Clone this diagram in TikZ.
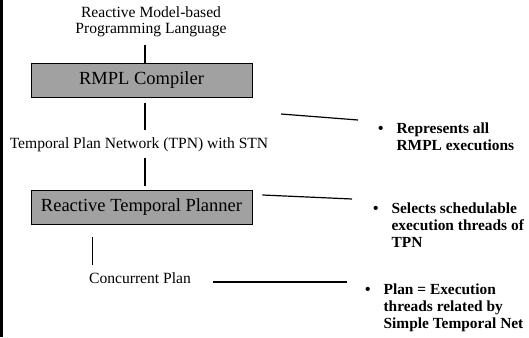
\documentclass[tikz,border=0pt]{standalone}
\usepackage{fontspec}
\setmainfont{Liberation Serif}
\usetikzlibrary{positioning}

\begin{document}
\begin{tikzpicture}[x=1pt,y=-1pt,
    stage/.style={draw,thick,fill=black!37,minimum width=221pt,minimum height=34pt,
      font=\fontsize{18.5}{20}\selectfont},
    note/.style={font=\fontsize{15.6}{16.5}\selectfont,align=center},
    point/.style={anchor=base west,inner sep=0pt,
      font=\bfseries\fontsize{15.4}{17}\selectfont},
    lead/.style={line width=1.2pt}]
  \useasboundingbox (0,0) rectangle (529,337);
  \fill (0,0) rectangle (3,337);

  \node (rm) [note] at (151,22) {Reactive Model-based\\Programming Language};
  \node (rc) [stage] at (141.5,80) {RMPL Compiler};
  \node (tpn) [note,anchor=base] at (139,148) {Temporal Plan Network (TPN) with STN};
  \node (rtp) [stage] at (141.5,207) {Reactive Temporal Planner};
  \node (cp) [note,anchor=base] at (140,283) {Concurrent Plan};

  \node (b1) [point] at (378,133) {\begin{tabular}[t]{@{}l@{\hspace{13pt}}l@{}}
    \textbullet & Represents all\\ & RMPL executions\end{tabular}};
  \node (b2) [point] at (373,213) {\begin{tabular}[t]{@{}l@{\hspace{13pt}}l@{}}
    \textbullet & Selects schedulable\\ & execution threads of\\ & TPN\end{tabular}};
  \node (b3) [point] at (365,294) {\begin{tabular}[t]{@{}l@{\hspace{13pt}}l@{}}
    \textbullet & Plan = Execution\\ & threads related by\\ & Simple Temporal Net\end{tabular}};

  % vertical links between the stages
  \coordinate (rmo) at (145,45);
  \draw[lead] (rmo) -- (rmo |- rc.north);
  \path (rc.south) +(3.5,6) coordinate (rco) {};
  \coordinate (tpni) at (145,130);
  \draw[lead] (rco) -- (tpni);
  \coordinate (tpno) at (145,158);
  \path (rtp.north) +(3.5,-4) coordinate (rtpi) {};
  \draw[lead] (tpno) -- (rtpi);
  \path (rtp.south west) +(62,13) coordinate (rtpo) {};
  \path (rtp.south west) +(62,41) coordinate (cpi) {};
  \draw[lead] (rtpo) -- (cpi);

  % leaders to the notes
  \coordinate (l1a) at (281,114);
  \coordinate (l1b) at (358,120);
  \draw[lead] (l1a) -- (l1b);
  \path (rtp.east) +(10,-12) coordinate (l2a) {};
  \coordinate (l2b) at (352,199);
  \draw[lead] (l2a) -- (l2b);
  \path (cp.base east) +(19,-1) coordinate (l3a) {};
  \path (l3a) +(134,0) coordinate (l3b) {};
  \draw[lead] (l3a) -- (l3b);
\end{tikzpicture}
\end{document}
